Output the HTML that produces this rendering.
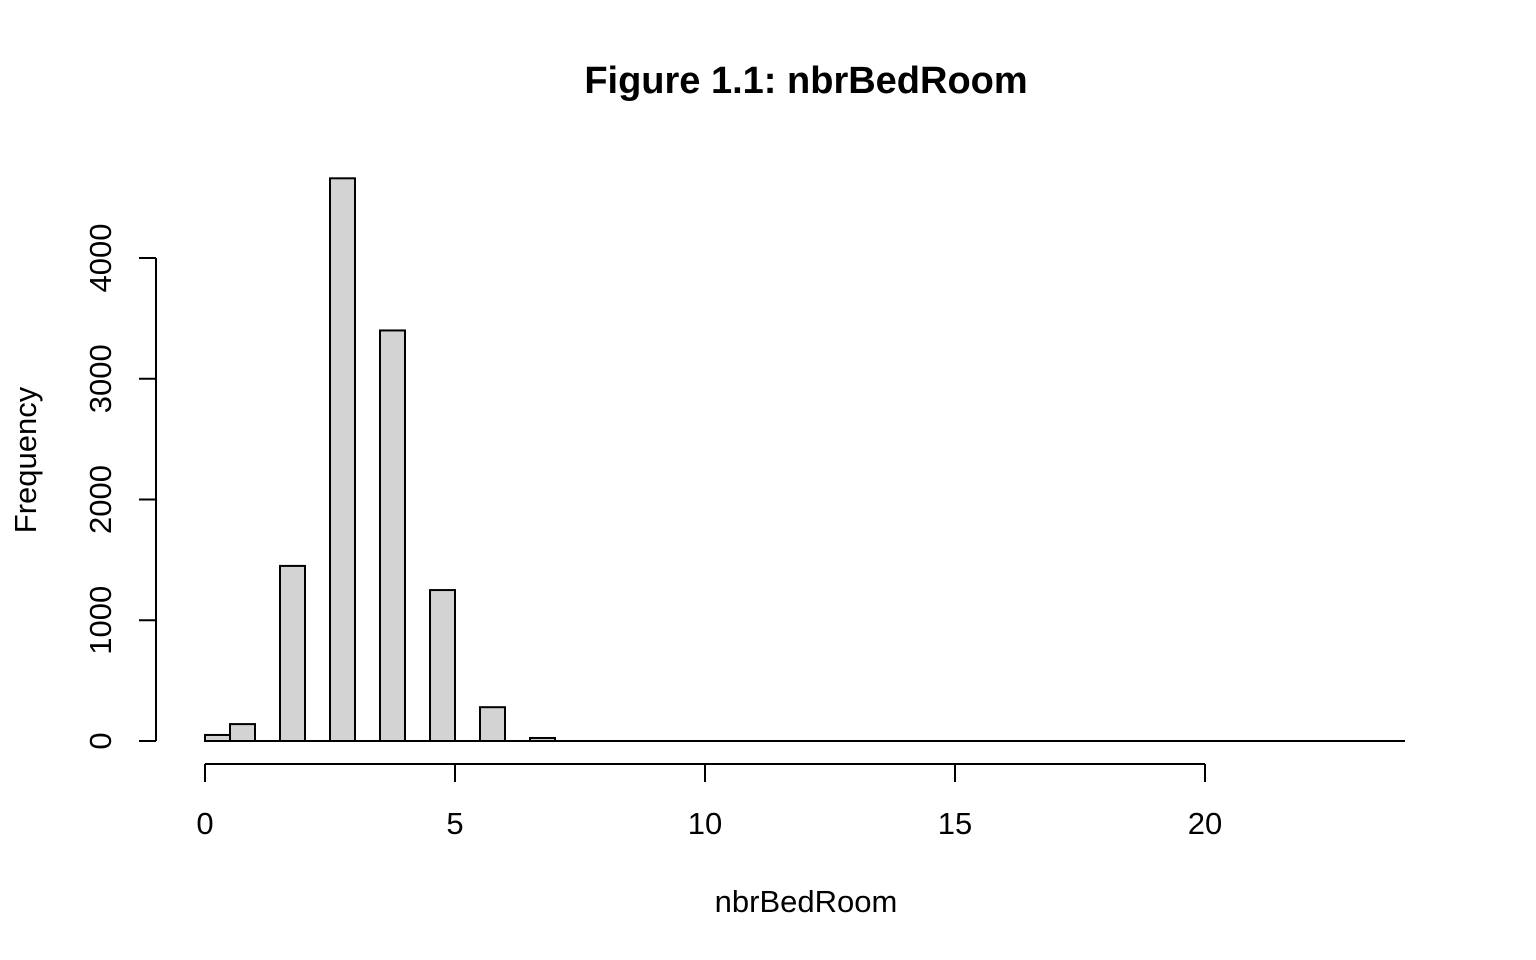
<!DOCTYPE html>
<html><head><meta charset="utf-8"><style>
html,body{margin:0;padding:0;background:#fff}
svg{display:block}
text{font-family:"Liberation Sans",Arial,sans-serif;fill:#000}
</style></head><body>
<svg id="chart" width="1536" height="960" viewBox="0 0 1536 960">
<text x="806" y="93" text-anchor="middle" font-size="38" font-weight="bold">Figure 1.1: nbrBedRoom</text>
<text x="806" y="912" text-anchor="middle" font-size="31">nbrBedRoom</text>
<text x="0" y="0" transform="translate(36,460) rotate(-90)" text-anchor="middle" font-size="31">Frequency</text>
<g id="bars"></g>
<g id="axes"></g>
</svg>
<script>
const binStarts = [0,0.5,1,1.5,2,2.5,3,3.5,4,4.5,5,5.5,6,6.5,7,7.5,8,8.5,9,9.5,10,10.5,11,11.5,12,12.5,13,13.5,14,14.5,15,15.5,16,16.5,17,17.5,18,18.5,19,19.5,20,20.5,21,21.5,22,22.5,23,23.5];
const counts = [50,140,0,1450,0,4660,0,3400,0,1250,0,280,0,25,0,0,0,0,0,0,0,0,0,0,0,0,0,0,0,0,0,0,0,0,0,0,0,0,0,0,0,0,0,0,0,0,0,0];
const binWidth = 0.5;
const xTicks = [0,5,10,15,20];
const yTicks = [0,1000,2000,3000,4000];
const NS="http://www.w3.org/2000/svg";
const xs = v => 205 + v*50;
const ys = v => 741 - v*0.12075;
const bars = document.getElementById('bars');
const axes = document.getElementById('axes');
function line(parent,x1,y1,x2,y2,name){
  const l=document.createElementNS(NS,'line');
  
  
  l.setAttribute('x1',x1);l.setAttribute('y1',y1);l.setAttribute('x2',x2);l.setAttribute('y2',y2);
  l.setAttribute('stroke','#000');l.setAttribute('stroke-width','2');
  parent.appendChild(l);
}
binStarts.forEach((b,i)=>{
  if(counts[i]<=0) return;
  const r=document.createElementNS(NS,'rect');
  
  
  const y=ys(counts[i]);
  r.setAttribute('x',xs(b));r.setAttribute('y',y);
  r.setAttribute('width',xs(b+binWidth)-xs(b));r.setAttribute('height',ys(0)-y);
  r.setAttribute('fill','#d3d3d3');r.setAttribute('stroke','#000');r.setAttribute('stroke-width','2');
  bars.appendChild(r);
});
line(bars,xs(binStarts[0]),ys(0),xs(binStarts[binStarts.length-1]+binWidth),ys(0),'histogram-baseline');
line(axes,xs(xTicks[0]),764,xs(xTicks[xTicks.length-1]),764,'x-axis-line');
xTicks.forEach(t=>{
  line(axes,xs(t),764,xs(t),782,'x-tick');
  const tx=document.createElementNS(NS,'text');
  
  
  tx.setAttribute('x',xs(t));tx.setAttribute('y',834);tx.setAttribute('text-anchor','middle');tx.setAttribute('font-size','31');
  tx.textContent=t;axes.appendChild(tx);
});
line(axes,156,ys(yTicks[0]),156,ys(yTicks[yTicks.length-1]),'y-axis-line');
yTicks.forEach(t=>{
  line(axes,139,ys(t),156,ys(t),'y-tick');
  const tx=document.createElementNS(NS,'text');
  
  
  tx.setAttribute('transform','translate(111,'+ys(t)+') rotate(-90)');
  tx.setAttribute('text-anchor','middle');tx.setAttribute('font-size','31');
  tx.textContent=t;axes.appendChild(tx);
});
</script>
</body></html>
